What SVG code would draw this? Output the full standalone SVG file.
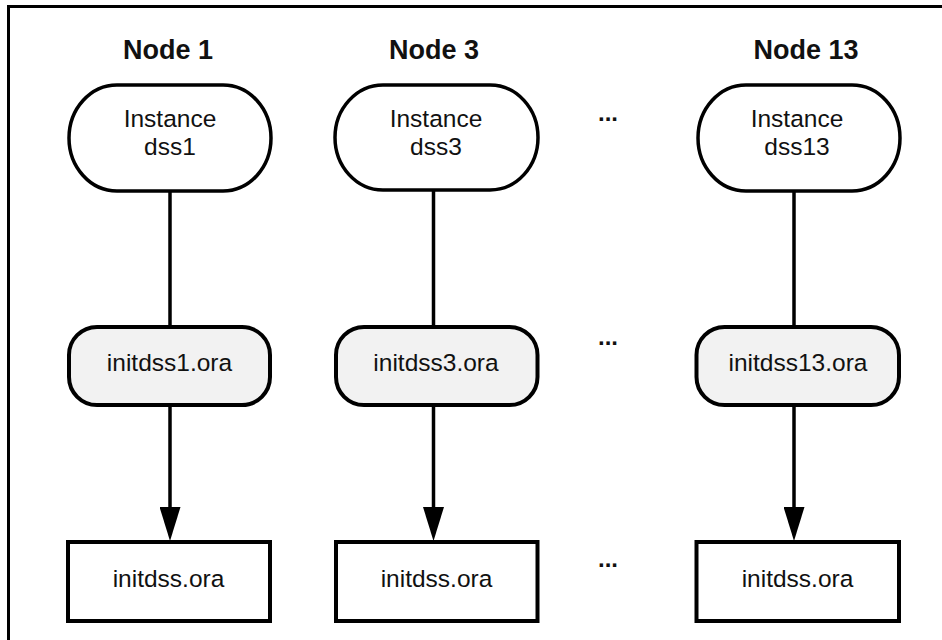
<svg xmlns="http://www.w3.org/2000/svg" width="942" height="640" viewBox="0 0 942 640">
<defs>
<style>
text{font-family:"Liberation Sans",Arial,sans-serif;fill:#111;text-anchor:middle}
.title{font-size:27px;font-weight:bold}
.lbl{font-size:24.5px}
.dots{font-size:24px;font-weight:bold}
.inst{fill:#fff;stroke:#000;stroke-width:3.5}
.file{fill:#f2f2f2;stroke:#000;stroke-width:4}
.box{fill:#fff;stroke:#000;stroke-width:4}
.conn{stroke:#000;stroke-width:3.5;fill:none}
</style>
<marker id="arr" markerUnits="userSpaceOnUse" markerWidth="34" markerHeight="21" viewBox="0 0 34 21" refX="2" refY="10.5" orient="auto">
<path d="M0,0 L34,10.5 L0,21 z" fill="#000"/>
</marker>
</defs>
<rect width="942" height="640" fill="#fff"/>
<path d="M8.5,640 V6.5 H942" fill="none" stroke="#000" stroke-width="3"/>
<g id="titles">
<text class="title" x="168" y="59">Node 1</text>
<text class="title" x="434" y="59">Node 3</text>
<text class="title" x="806" y="59">Node 13</text>
</g>
<g id="dots">
<text class="dots" x="608" y="121">...</text>
<text class="dots" x="608" y="345">...</text>
<text class="dots" x="608" y="567">...</text>
</g>
<g id="connectors">
<line class="conn" x1="170" y1="190" x2="170" y2="327"/>
<line class="conn" x1="433.5" y1="190" x2="433.5" y2="327"/>
<line class="conn" x1="794" y1="190" x2="794" y2="327"/>
<line class="conn" x1="170" y1="405" x2="170" y2="509" marker-end="url(#arr)"/>
<line class="conn" x1="433.5" y1="405" x2="433.5" y2="509" marker-end="url(#arr)"/>
<line class="conn" x1="794" y1="405" x2="794" y2="509" marker-end="url(#arr)"/>
</g>
<g id="inst1"><rect class="inst" x="69" y="85" width="202" height="106" rx="48" ry="53"/><text class="lbl" x="170" y="127">Instance</text><text class="lbl" x="170" y="155">dss1</text></g>
<g id="inst3"><rect class="inst" x="335" y="85" width="203" height="105" rx="48" ry="52.5"/><text class="lbl" x="436" y="127">Instance</text><text class="lbl" x="436" y="155">dss3</text></g>
<g id="inst13"><rect class="inst" x="698" y="85" width="202" height="106" rx="48" ry="53"/><text class="lbl" x="797" y="127">Instance</text><text class="lbl" x="797" y="155">dss13</text></g>
<g id="file1"><rect class="file" x="69" y="327" width="201" height="78" rx="28" ry="28"/><text class="lbl" x="169.5" y="371">initdss1.ora</text></g>
<g id="file3"><rect class="file" x="336" y="327" width="201.5" height="78" rx="28" ry="28"/><text class="lbl" x="436" y="371">initdss3.ora</text></g>
<g id="file13"><rect class="file" x="696.5" y="327" width="202.5" height="78" rx="28" ry="28"/><text class="lbl" x="798" y="371">initdss13.ora</text></g>
<g id="box1"><rect class="box" x="68" y="542" width="202" height="79"/><text class="lbl" x="168.5" y="587">initdss.ora</text></g>
<g id="box3"><rect class="box" x="336" y="542" width="201.5" height="79"/><text class="lbl" x="436.5" y="587">initdss.ora</text></g>
<g id="box13"><rect class="box" x="696.5" y="542" width="202.5" height="79"/><text class="lbl" x="797.5" y="587">initdss.ora</text></g>
</svg>
